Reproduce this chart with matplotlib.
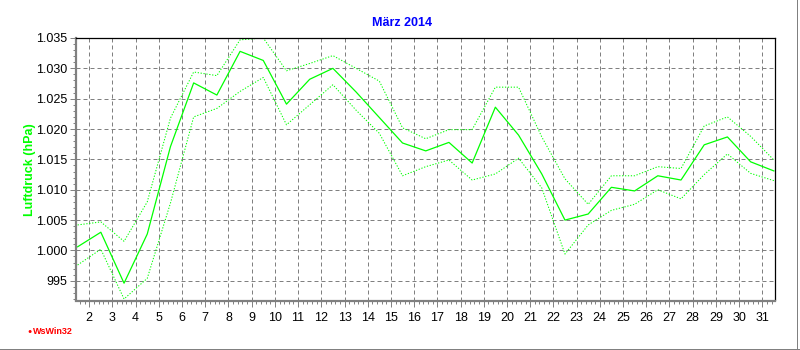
import numpy as np
import matplotlib
matplotlib.use("Agg")
import matplotlib.pyplot as plt
from matplotlib.ticker import FixedLocator, MultipleLocator, FuncFormatter
from matplotlib.patches import Rectangle

plt.rcParams['font.family'] = ['Liberation Sans', 'DejaVu Sans']

# daily air pressure, March 2014 (hPa)
days = np.arange(1, 32)
p_mean = [1000.6, 1003.0, 994.6, 1002.7, 1017.1, 1027.6, 1025.6, 1032.8, 1031.3, 1024.1,
          1028.2, 1030.0, 1026.1, 1021.9, 1017.7, 1016.4, 1017.8, 1014.4, 1023.6, 1019.0,
          1012.6, 1005.0, 1006.0, 1010.4, 1009.8, 1012.3, 1011.6, 1017.4, 1018.7, 1014.6,
          1013.1]
p_max = [1004.2, 1004.7, 1001.5, 1008.0, 1021.8, 1029.4, 1028.8, 1034.7, 1035.0, 1029.6,
         1030.8, 1032.1, 1030.0, 1027.9, 1020.2, 1018.4, 1019.9, 1019.9, 1026.9, 1026.9,
         1018.7, 1011.8, 1007.6, 1012.3, 1012.3, 1013.8, 1013.5, 1020.5, 1022.0, 1018.8,
         1014.9]
p_min = [997.6, 1000.2, 992.0, 995.4, 1007.8, 1022.0, 1023.4, 1026.2, 1028.5, 1020.7,
         1024.0, 1027.3, 1023.1, 1019.3, 1012.3, 1013.8, 1014.9, 1011.6, 1012.6, 1015.2,
         1010.3, 999.4, 1004.2, 1006.6, 1007.6, 1010.0, 1008.5, 1012.5, 1015.9, 1012.7,
         1011.5]
y_ticks = [995, 1000, 1005, 1010, 1015, 1020, 1025, 1030, 1035]
x_ticks = list(range(2, 32))

green = '#00ff00'
grey = '#808080'

fig = plt.figure(figsize=(8, 3.5), dpi=100)
ax = fig.add_axes([76 / 800, 1 - 300.5 / 350, (775 - 76) / 800, (300.5 - 38) / 350])

x = days + 0.5  # daily values plotted at midday
ax.plot(x, p_max, color=green, lw=0.75, ls=(0, (1.2, 1.6)))
ax.plot(x, p_min, color=green, lw=0.75, ls=(0, (1.2, 1.6)))
ax.plot(x, p_mean, color=green, lw=0.9)

ax.set_xlim(1.43, 31.55)
ax.set_ylim(991.75, 1035)

ax.xaxis.set_major_locator(FixedLocator(x_ticks))
ax.xaxis.set_minor_locator(MultipleLocator(0.2))
ax.yaxis.set_major_locator(FixedLocator(y_ticks))
ax.yaxis.set_minor_locator(MultipleLocator(1))
ax.yaxis.set_major_formatter(FuncFormatter(
    lambda v, pos: f"1.{int(round(v)) - 1000:03d}" if v >= 1000 else f"{int(round(v))}"))

ax.grid(True, which='major', color=grey, lw=0.72, ls=(0, (4, 3)))
ax.set_axisbelow(True)

ax.tick_params(axis='both', which='major', labelsize=9, colors='black', length=4,
               width=0.7, color=grey, pad=2)
ax.tick_params(axis='both', which='minor', length=2.5, width=0.7, color=grey)
ax.tick_params(axis='x', which='major', pad=4)

for side in ('left', 'bottom'):
    ax.spines[side].set_color(grey)
    ax.spines[side].set_linewidth(1.6)
for side in ('top', 'right'):
    ax.spines[side].set_color('black')
    ax.spines[side].set_linewidth(0.9)

fig.text(0.502, 1 - 23 / 350, 'März 2014', color='#0000ff', fontsize=9,
         fontweight='bold', ha='center', va='center')
fig.text(30 / 800, 0.515, 'Luftdruck (hPa)', color=green, fontsize=9,
         fontweight='bold', rotation=90, ha='center', va='center')

# program tag bottom left
fig.text(29.5 / 800, 1 - 331.5 / 350, '\u25cf', color='red', fontsize=5,
         ha='center', va='center')
fig.text(33 / 800, 1 - 331.5 / 350, 'WsWin32', color='red', fontsize=6.5,
         fontweight='bold', ha='left', va='center')

# grey frame at right and bottom
fig.add_artist(Rectangle((0, 0), 1, 1.5 / 350, transform=fig.transFigure,
                         color=grey, lw=0))
fig.add_artist(Rectangle((1 - 3.5 / 800, 0), 1.5 / 800, 1, transform=fig.transFigure,
                         color=grey, lw=0))

fig.savefig('out.png', dpi=100)
